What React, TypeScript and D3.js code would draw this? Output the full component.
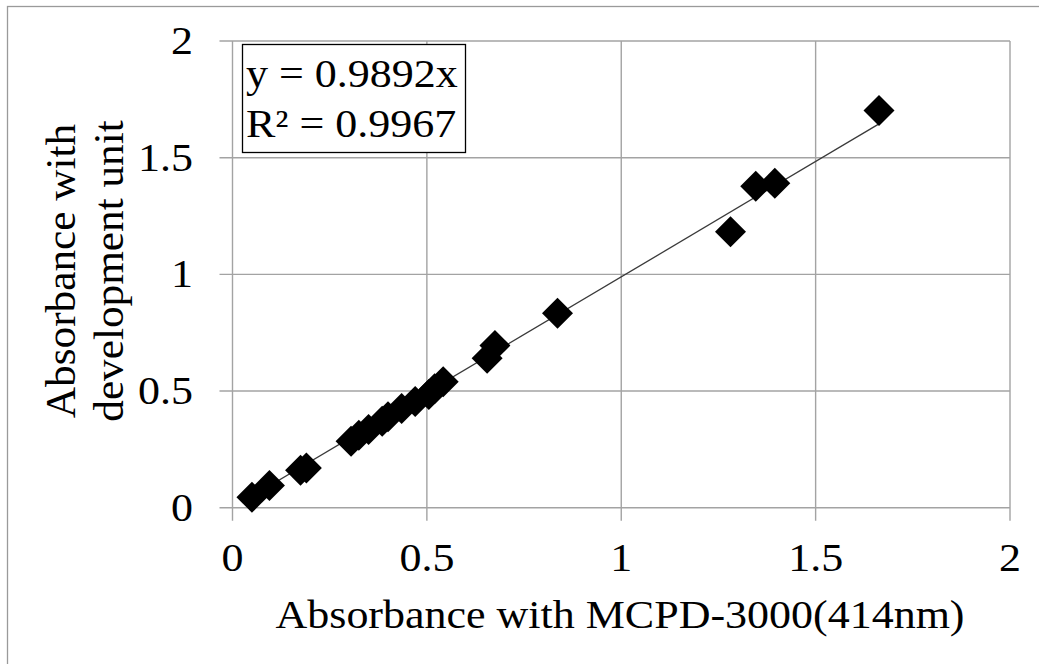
import * as d3 from "d3";
import { useEffect, useRef } from "react";

// MCPD-3000 absorbance (x) vs development unit absorbance (y)
const mcpdValues = [
  0.05, 0.095, 0.175, 0.19, 0.305, 0.325, 0.35, 0.385, 0.4, 0.435, 0.47, 0.505,
  0.52, 0.542, 0.655, 0.675, 0.836, 1.281, 1.346, 1.395, 1.663,
];
const unitValues = [
  0.045, 0.095, 0.16, 0.17, 0.285, 0.31, 0.335, 0.37, 0.39, 0.425, 0.455, 0.485,
  0.51, 0.54, 0.64, 0.695, 0.833, 1.183, 1.378, 1.39, 1.702,
];
const tickValues = [0, 0.5, 1, 1.5, 2];
const slope = 0.9892;
const equationLines = ["y = 0.9892x", "R\u00b2 = 0.9967"];
const xTitle = "Absorbance with MCPD-3000(414nm)";
const yTitleLines = ["Absorbance with", "development unit"];

const W = 1039;
const H = 664;
const FONT = "'Liberation Serif', 'Times New Roman', serif";

export default function App() {
  const ref = useRef<SVGSVGElement>(null);

  useEffect(() => {
    const svg = d3.select(ref.current);
    svg.selectAll("*").remove();

    const x = d3.scaleLinear().domain([0, 2]).range([232.5, 1010]);
    const y = d3.scaleLinear().domain([0, 2]).range([507.7, 41]);
    const tickLen = 13;

    svg.append("rect").attr("width", W).attr("height", H).attr("fill", "#fff");

    // outer chart frame (right/bottom run off the picture)
    svg
      .append("rect")
      .attr("x", 7.5)
      .attr("y", 6.5)
      .attr("width", W + 20)
      .attr("height", H + 20)
      .attr("fill", "none")
      .attr("stroke", "#9a9a9a")
      .attr("stroke-width", 1.3);

    const grid = svg.append("g").attr("stroke", "#a3a3a3").attr("stroke-width", 1.4);

    grid
      .selectAll("line.v")
      .data(tickValues)
      .join("line")
      .attr("class", "v")
      .attr("x1", (d) => x(d))
      .attr("x2", (d) => x(d))
      .attr("y1", y(2))
      .attr("y2", y(0) + tickLen);

    grid
      .selectAll("line.h")
      .data(tickValues)
      .join("line")
      .attr("class", "h")
      .attr("x1", x(0) - tickLen)
      .attr("x2", x(2))
      .attr("y1", (d) => y(d))
      .attr("y2", (d) => y(d));

    const txt = svg.append("g").attr("font-family", FONT).attr("fill", "#000");

    // y tick labels
    txt
      .selectAll("text.yt")
      .data(tickValues)
      .join("text")
      .attr("class", "yt")
      .attr("font-size", 40)
      .attr("text-anchor", "end")
      .attr("transform", (d) => `translate(193,${y(d) + 13}) scale(1.1,1)`)
      .text((d) => String(d));

    // x tick labels
    txt
      .selectAll("text.xt")
      .data(tickValues)
      .join("text")
      .attr("class", "xt")
      .attr("font-size", 40)
      .attr("text-anchor", "middle")
      .attr("transform", (d) => `translate(${x(d)},571) scale(1.1,1)`)
      .text((d) => String(d));

    txt
      .append("text")
      .attr("font-size", 40)
      .attr("text-anchor", "middle")
      .attr("transform", `translate(620,628) scale(1.1,1)`)
      .text(xTitle);

    txt
      .selectAll("text.ytitle")
      .data(yTitleLines)
      .join("text")
      .attr("class", "ytitle")
      .attr("font-size", 42)
      .attr("text-anchor", "middle")
      .attr("transform", (_, i) => `translate(${75 + i * 48},271) rotate(-90) scale(1.03,1)`)
      .text((d) => d);

    // trendline through the origin
    const xMin = d3.min(mcpdValues) ?? 0;
    const xMax = d3.max(mcpdValues) ?? 2;
    svg
      .append("line")
      .attr("x1", x(xMin))
      .attr("y1", y(slope * xMin))
      .attr("x2", x(xMax))
      .attr("y2", y(slope * xMax))
      .attr("stroke", "#3a3a3a")
      .attr("stroke-width", 1.3);

    // diamond markers
    const points = mcpdValues.map((v, i) => [v, unitValues[i]] as [number, number]);
    const diamond = d3.symbol(d3.symbolSquare, 480)();
    svg
      .append("g")
      .selectAll("path")
      .data(points)
      .join("path")
      .attr("d", diamond)
      .attr("transform", (d) => `translate(${x(d[0])},${y(d[1])}) rotate(45)`)
      .attr("fill", "#000");

    // equation box
    svg
      .append("rect")
      .attr("x", 242.5)
      .attr("y", 44.5)
      .attr("width", 223)
      .attr("height", 108)
      .attr("fill", "#fff")
      .attr("stroke", "#000")
      .attr("stroke-width", 1.3);

    txt
      .raise()
      .selectAll("text.eq")
      .data(equationLines)
      .join("text")
      .attr("class", "eq")
      .attr("font-size", 40)
      .attr("transform", (_, i) => `translate(246,${87 + i * 50}) scale(1.1,1)`)
      .text((d) => d);
  }, []);

  return (
    <svg
      ref={ref}
      width={W}
      height={H}
      viewBox={`0 0 ${W} ${H}`}
      style={{ position: "absolute", left: 0, top: 0, display: "block" }}
    />
  );
}
